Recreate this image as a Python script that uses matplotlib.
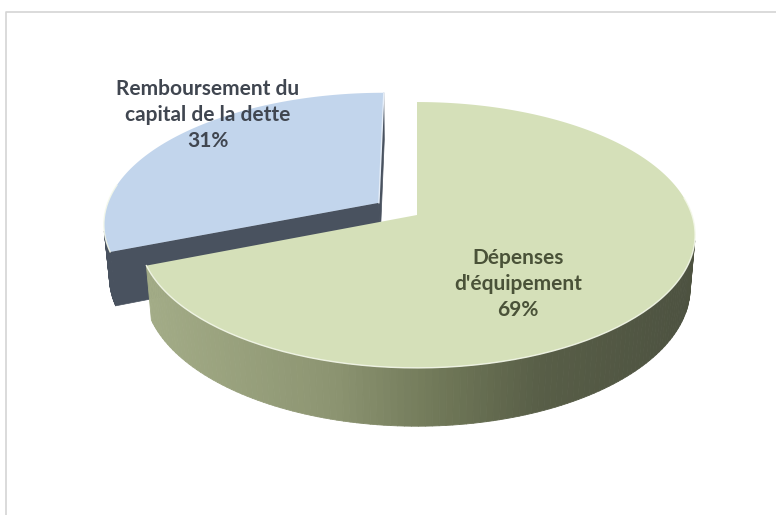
import matplotlib
matplotlib.use("Agg")
import matplotlib.pyplot as plt
import numpy as np
from matplotlib.collections import PolyCollection
from matplotlib.colors import to_rgb

# data
labels = ["Dépenses\nd'équipement", "Remboursement du\ncapital de la dette"]
values = [69, 31]
explode = [0.0, 0.17]
top_colors = ["#d5e0b9", "#c2d5ec"]
side_colors = ["#8c946f", "#49525f"]
text_colors = ["#4a5238", "#404650"]

# camera / projection (pixel space)
W, H = 776, 515
cx, cy = 417, 215
f = 1614.0
d0 = 5.87
phi = np.radians(28.2)
s, c = np.sin(phi), np.cos(phi)
h = 0.22
cam = np.array([0.0, -d0 * c, d0 * s])


def proj(x, y, z):
    x, y, z = np.asarray(x, float), np.asarray(y, float), np.asarray(z, float)
    Y = y * s + z * c
    D = d0 + y * c - z * s
    return cx + f * x / D, cy - f * Y / D


def visible(n, p):
    return np.dot(n, cam - p) > 0


def green_side(px):
    stops_x = [140, 330, 440, 540, 700]
    cols = [to_rgb("#a4ad88"), to_rgb("#8d9572"), to_rgb("#707858"),
            to_rgb("#585e47"), to_rgb("#4c5140")]
    return tuple(np.interp(px, stops_x, [col[k] for col in cols]) for k in range(3))


fig = plt.figure(figsize=(W / 100, H / 100), dpi=100)
ax = fig.add_axes([0, 0, 1, 1])
ax.set_xlim(0, W)
ax.set_ylim(H, 0)
ax.axis("off")

# chart frame (only top / left visible)
ax.plot([6, 6, W], [H, 12, 12], color="#d4d4d4", lw=1.2)

# slice angles: first slice starts at 12 o'clock, clockwise
total = float(sum(values))
spans = [v / total * 360 for v in values]
slices = []
start = 90.0
for i, sp in enumerate(spans):
    a, b = start - sp, start  # ccw range [a, b]
    slices.append((a, b))
    start -= sp

order = [1, 0]  # back slice first
for i in order:
    a, b = slices[i]
    mid = np.radians((a + b) / 2)
    ox, oy = explode[i] * np.cos(mid), explode[i] * np.sin(mid)
    t = np.radians(np.linspace(a, b, 200))

    # radial faces
    for ang, sign in [(np.radians(a), 1), (np.radians(b), -1)]:
        n = np.array([sign * np.sin(ang), -sign * np.cos(ang), 0])
        p = np.array([ox + 0.5 * np.cos(ang), oy + 0.5 * np.sin(ang), -h / 2])
        if visible(n, p):
            xs = [ox, ox + np.cos(ang), ox + np.cos(ang), ox]
            ys = [oy, oy + np.sin(ang), oy + np.sin(ang), oy]
            zs = [0, 0, -h, -h]
            X, Y = proj(xs, ys, zs)
            ax.fill(X, Y, color=side_colors[i], lw=0.5, ec=side_colors[i], zorder=2)

    # outer arc side, strip by strip
    polys, cols = [], []
    for k in range(len(t) - 1):
        tm = (t[k] + t[k + 1]) / 2
        n = np.array([np.cos(tm), np.sin(tm), 0])
        p = np.array([ox + np.cos(tm), oy + np.sin(tm), -h / 2])
        if not visible(n, p):
            continue
        xs = ox + np.cos([t[k], t[k + 1], t[k + 1], t[k]])
        ys = oy + np.sin([t[k], t[k + 1], t[k + 1], t[k]])
        X, Y = proj(xs, ys, [0, 0, -h, -h])
        polys.append(np.column_stack([X, Y]))
        cols.append(green_side(X.mean()) if i == 0 else to_rgb(side_colors[i]))
    if polys:
        ax.add_collection(PolyCollection(polys, facecolors=cols, edgecolors=cols,
                                         linewidths=0.6, zorder=2))

    # top face
    xs = np.concatenate([[ox], ox + np.cos(t)])
    ys = np.concatenate([[oy], oy + np.sin(t)])
    X, Y = proj(xs, ys, np.zeros_like(xs))
    ax.fill(X, Y, color=top_colors[i], lw=0, zorder=3)

    # light rim on visible front edges
    vis = np.sin(t) < 0.15
    if vis.any():
        X, Y = proj(ox + np.cos(t[vis]), oy + np.sin(t[vis]), np.zeros(vis.sum()))
        ax.plot(X, Y, color="#f4f8ea", lw=1.0, alpha=0.9, zorder=4)
    if i == 1:
        ang = np.radians(a)
        X, Y = proj([ox, ox + np.cos(ang)], [oy, oy + np.sin(ang)], [0, 0])
        ax.plot(X, Y, color="#e6eef8", lw=1.0, zorder=4)

# labels
label_pos = [(518, 284), (208, 115)]
for i in range(len(values)):
    ax.text(label_pos[i][0], label_pos[i][1], f"{labels[i]}\n{values[i]}%",
            ha="center", va="center", fontsize=15, fontweight="bold",
            family=["Lato", "DejaVu Sans"], color=text_colors[i],
            linespacing=1.35, zorder=5)

fig.savefig("out.png", dpi=100)
